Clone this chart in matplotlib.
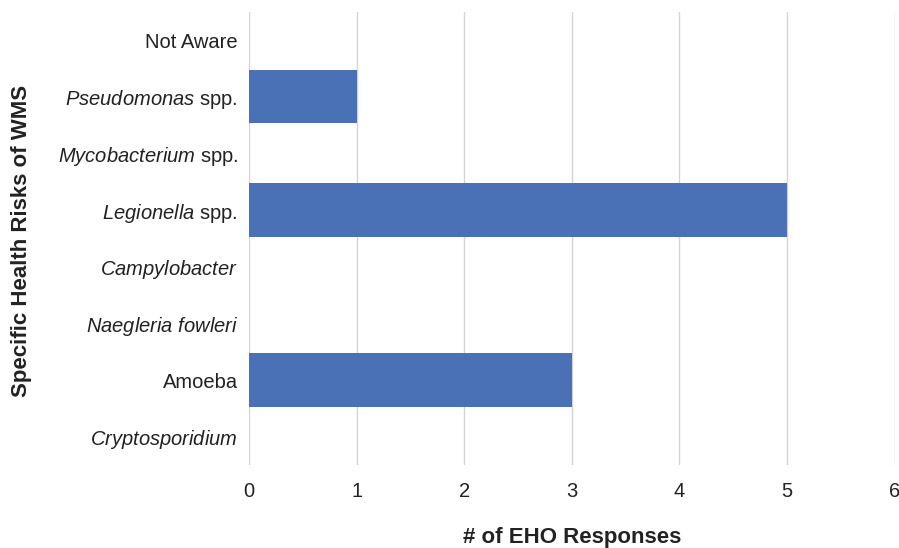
import matplotlib.pyplot as plt

plt.rcParams['font.family'] = ['Liberation Sans', 'DejaVu Sans']
plt.rcParams['mathtext.fontset'] = 'custom'
plt.rcParams['mathtext.rm'] = 'Liberation Sans'
plt.rcParams['mathtext.it'] = 'Liberation Sans:italic'

# categories top to bottom
risks = ["Not Aware",
         r"$\mathit{Pseudomonas}$ spp.",
         r"$\mathit{Mycobacterium}$ spp.",
         r"$\mathit{Legionella}$ spp.",
         r"$\mathit{Campylobacter}$",
         r"$\mathit{Naegleria\ fowleri}$",
         "Amoeba",
         r"$\mathit{Cryptosporidium}$"]
responses = [0, 1, 0, 5, 0, 0, 3, 0]
xticks = [0, 1, 2, 3, 4, 5, 6]

fig = plt.figure(figsize=(8.99, 5.48), dpi=100)
ax = fig.add_axes([0.277, 0.1515, 0.718, 0.827])

pos = list(range(len(risks)))
ax.barh(pos, responses, height=0.94, color="#4a71b6", zorder=3)
ax.set_yticks(pos)
ax.set_yticklabels(risks)
ax.set_ylim(len(risks) - 0.5, -0.5)
ax.set_xlim(0, 6)
ax.set_xticks(xticks)

ax.grid(axis="x", color="#d4d4d4", linewidth=1, zorder=0)
for s in ax.spines.values():
    s.set_visible(False)
ax.tick_params(axis="both", length=0, labelsize=14.5, colors="#222222")
ax.tick_params(axis="x", pad=12)
ax.tick_params(axis="y", pad=8)

fig.text(572 / 899, 1 - 537 / 548, "# of EHO Responses", fontsize=16,
         fontweight="bold", color="#222222", ha="center", va="center")
fig.text(22 / 899, 1 - 241 / 548, "Specific Health Risks of WMS", fontsize=16,
         fontweight="bold", color="#222222", ha="center", va="center",
         rotation=90)

fig.savefig("out.png", dpi=100)
